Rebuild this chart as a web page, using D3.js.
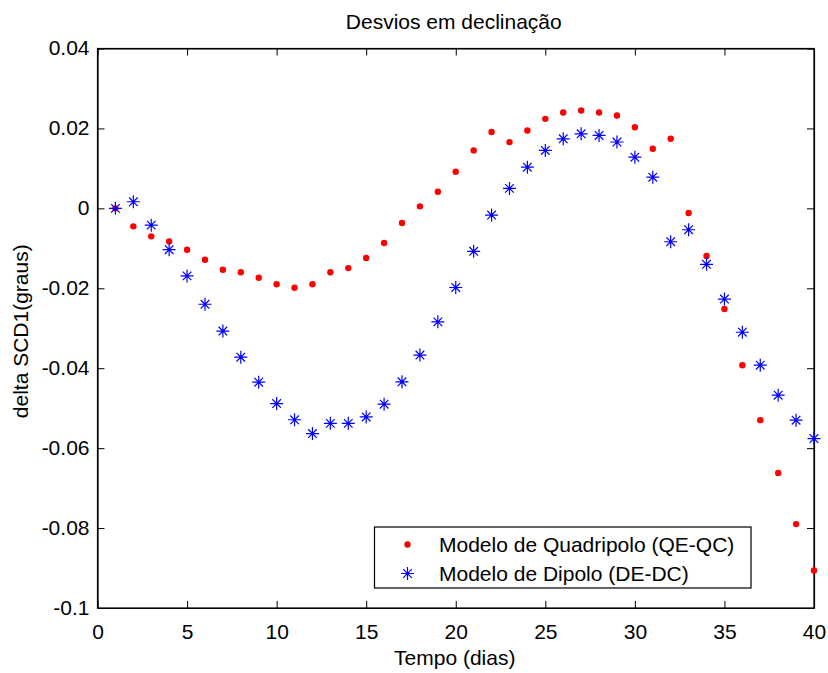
<!DOCTYPE html>
<html><head><meta charset="utf-8">
<script src="https://cdn.jsdelivr.net/npm/d3@7"></script>
<style>
html,body{margin:0;padding:0;background:#fff;}
svg{display:block;font-family:"Liberation Sans",Arial,Helvetica,sans-serif;}
</style></head>
<body>
<script>
const days = d3.range(1, 41);
const quadripolo = [0, -0.0045, -0.007, -0.00825, -0.01035, -0.01285, -0.01535, -0.016, -0.01735, -0.019,
  -0.01985, -0.019, -0.016, -0.01495, -0.0124, -0.00868, -0.00368, 0.0005, 0.00415, 0.00915,
  0.0145, 0.0191, 0.01658, 0.0195, 0.0224, 0.024, 0.0245, 0.024, 0.02325, 0.0203,
  0.0149, 0.0174, -0.00118, -0.0119, -0.0252, -0.03925, -0.053, -0.0662, -0.079, -0.0906];
const dipolo = [0, 0.00165, -0.0042, -0.01035, -0.0169, -0.024, -0.0307, -0.03725, -0.0435, -0.04885,
  -0.0529, -0.05635, -0.0538, -0.0538, -0.0522, -0.049, -0.0434, -0.0367, -0.0284, -0.0198,
  -0.01075, -0.00168, 0.005, 0.0103, 0.0145, 0.0174, 0.01865, 0.01825, 0.0166, 0.0128,
  0.0078, -0.00835, -0.00535, -0.014, -0.0227, -0.031, -0.03925, -0.04675, -0.053, -0.0576];
const xTicks = [0, 5, 10, 15, 20, 25, 30, 35, 40];
const yTicks = [0.04, 0.02, 0, -0.02, -0.04, -0.06, -0.08, -0.1];
const yTickLabels = ["0.04", "0.02", "0", "-0.02", "-0.04", "-0.06", "-0.08", "-0.1"];
const title = "Desvios em declinação";
const xLabel = "Tempo (dias)";
const yLabel = "delta SCD1(graus)";
const legendLabels = ["Modelo de Quadripolo (QE-QC)", "Modelo de Dipolo (DE-DC)"];

const W = 828, H = 673;
const L = 97.5, R = 814, T = 48.5, B = 608;
const fs = 21;

const svg = d3.select("body").append("svg").attr("width", W).attr("height", H);
const x = d3.scaleLinear().domain([0, 40]).range([L, R]);
const y = d3.scaleLinear().domain([-0.1, 0.04]).range([B, T]);

// box
svg.append("rect").attr("x", L).attr("y", T).attr("width", R - L).attr("height", B - T)
  .attr("fill", "#fff").attr("stroke", "#000").attr("stroke-width", 1.2);

const tl = 7;
const xAxisB = d3.axisBottom(x).tickValues(xTicks).tickSizeInner(-tl).tickSizeOuter(0).tickPadding(16).tickFormat(d3.format("d"));
const gxb = svg.append("g").attr("transform", `translate(0,${B})`).call(xAxisB);
const xAxisT = d3.axisTop(x).tickValues(xTicks).tickSizeInner(-tl).tickSizeOuter(0).tickFormat("");
const gxt = svg.append("g").attr("transform", `translate(0,${T})`).call(xAxisT);
const yAxisL = d3.axisLeft(y).tickValues(yTicks).tickSizeInner(-tl).tickSizeOuter(0).tickPadding(8)
  .tickFormat((d, i) => yTickLabels[i]);
const gyl = svg.append("g").attr("transform", `translate(${L},0)`).call(yAxisL);
const yAxisR = d3.axisRight(y).tickValues(yTicks).tickSizeInner(-tl).tickSizeOuter(0).tickFormat("");
const gyr = svg.append("g").attr("transform", `translate(${R},0)`).call(yAxisR);
[gxb, gxt, gyl, gyr].forEach(g => {
  g.select(".domain").attr("stroke", "#000").attr("stroke-width", 1.2);
  g.selectAll(".tick line").attr("stroke", "#000").attr("stroke-width", 1);
  g.selectAll("text").attr("font-size", fs).attr("fill", "#000").attr("font-family", "Liberation Sans, Arial, sans-serif");
});
gyl.selectAll("text").attr("dy", "0.3em");
gxb.selectAll("text").attr("dy", "0.71em");

// title and labels
svg.append("text").attr("x", (L + R) / 2 - 2).attr("y", 29).attr("text-anchor", "middle")
  .attr("font-size", fs).text(title);
svg.append("text").attr("x", (L + R) / 2 - 1).attr("y", 665).attr("text-anchor", "middle")
  .attr("font-size", fs).text(xLabel);
svg.append("text").attr("transform", `translate(27.5,${(T + B) / 2 + 3}) rotate(-90)`).attr("text-anchor", "middle")
  .attr("font-size", fs).text(yLabel);

// markers
function asterisk(g, cx, cy) {
  const a = 6.5, b = 4.3;
  const p = `M${cx - a},${cy}L${cx + a},${cy}M${cx},${cy - a}L${cx},${cy + a}` +
    `M${cx - b},${cy - b}L${cx + b},${cy + b}M${cx - b},${cy + b}L${cx + b},${cy - b}`;
  g.append("path").attr("d", p).attr("stroke", "#0000ff").attr("stroke-width", 1.2).attr("fill", "none");
}
const gd = svg.append("g");
svg.append("g").selectAll("circle").data(days).join("circle")
  .attr("cx", d => x(d)).attr("cy", (d, i) => y(quadripolo[i])).attr("r", 3.2).attr("fill", "#ff0000");
days.forEach((d, i) => asterisk(gd, x(d), y(dipolo[i])));
gd.raise();

// legend
const lg = svg.append("g");
lg.append("rect").attr("x", 374.5).attr("y", 527).attr("width", 376.5).attr("height", 61)
  .attr("fill", "#fff").attr("stroke", "#000").attr("stroke-width", 1.2);
lg.append("circle").attr("cx", 407.5).attr("cy", 544.5).attr("r", 3.2).attr("fill", "#ff0000");
asterisk(lg, 407.5, 573.5);
lg.append("text").attr("x", 439).attr("y", 544.5).attr("dy", "0.35em").attr("font-size", fs).text(legendLabels[0]);
lg.append("text").attr("x", 439).attr("y", 573.5).attr("dy", "0.35em").attr("font-size", fs).text(legendLabels[1]);
</script>
</body></html>
